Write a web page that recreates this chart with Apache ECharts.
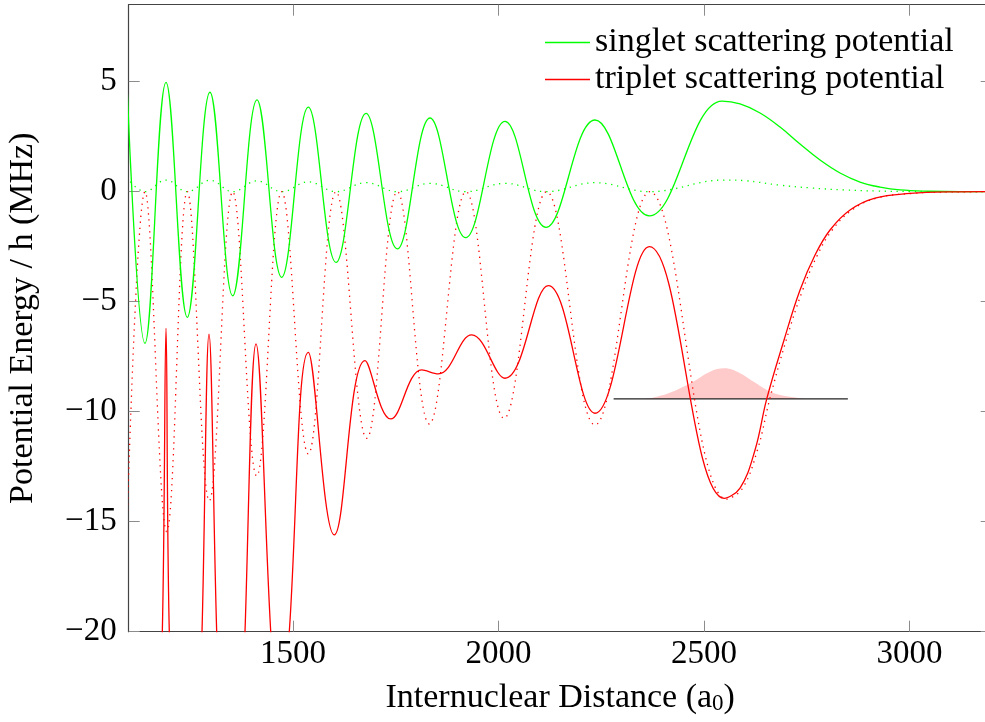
<!DOCTYPE html>
<html><head><meta charset="utf-8">
<script src="https://cdn.jsdelivr.net/npm/echarts@6/dist/echarts.min.js"></script>
<style>html,body{margin:0;padding:0;background:#fff}#c{width:985px;height:722px}</style>
</head><body><div id="c"></div>
<script>
// Tick labels
const xTicks = [1500, 2000, 2500, 3000];
const yTicks = [-20, -15, -10, -5, 0, 5];

// singlet scattering potential (solid green): [distance, energy]
const singlet = [
  [1095, 5.3], [1139.7, -6.89], [1190.8, 4.97], [1242.6, -5.71], [1297.8, 4.52], [1353.1, -4.73],
  [1412.2, 4.17], [1472.3, -3.89], [1537.1, 3.84], [1604.5, -3.21], [1677.5, 3.56], [1753.6, -2.60],
  [1833.2, 3.35], [1920.1, -2.09], [2015.7, 3.20], [2115.5, -1.62], [2234.7, 3.26], [2366.9, -1.10],
  [2543.8, 4.12], [2587.6, 3.99], [2636.3, 3.58], [2684.9, 2.94], [2733.6, 2.17], [2782.3, 1.44],
  [2831.0, 0.85], [2879.6, 0.44], [2928.3, 0.21], [2977.0, 0.08], [3050, 0.02], [3123, 0.0], [3200, 0.0]
];

// singlet dotted companion curve (green dotted)
const singletDotted = [
  [1095, 0.66], [1139.7, 0], [1190.8, 0.53], [1242.6, 0], [1297.8, 0.52], [1353.1, 0],
  [1412.2, 0.49], [1472.3, 0], [1537.1, 0.45], [1604.5, 0], [1677.5, 0.41], [1753.6, 0],
  [1833.2, 0.38], [1920.1, 0], [2015.7, 0.38], [2115.5, 0], [2234.7, 0.41], [2366.9, 0],
  [2549, 0.53], [2600, 0.50], [2683, 0.30], [2760, 0.17], [2840, 0.08], [2920, 0.03],
  [3000, 0.01], [3100, 0], [3200, 0]
];

// triplet scattering potential (solid red)
const triplet = [
  [1150, -40], [1181.8, -20], [1190.8, -6.21], [1198.8, -20], [1239.4, -45], [1278.4, -20],
  [1295.4, -6.48], [1314.1, -20], [1349.0, -40], [1383.0, -20], [1409.8, -6.92], [1445.6, -20],
  [1468.2, -26], [1490.8, -20], [1537.1, -7.30], [1600.3, -15.6], [1675.0, -7.68], [1737.6, -10.33],
  [1813.0, -8.10], [1853.4, -8.28], [1934.7, -6.51], [2015.7, -8.48], [2121.1, -4.27], [2234.7, -10.07],
  [2366.9, -2.50], [2549.4, -13.94], [2587.6, -13.47], [2624.1, -11.74], [2652.6, -9.42], [2694.7, -6.74],
  [2733.6, -4.47], [2770.1, -2.88], [2806.6, -1.74], [2855.3, -0.83], [2916.1, -0.29], [3001.3, -0.08],
  [3098.6, -0.01], [3200, 0]
];

// triplet dotted companion curve (red dotted)
const tripletDotted = [
  [1092, -17.5], [1139.7, 0], [1192.5, -15.45], [1242.6, 0], [1296.1, -14.05], [1353.1, 0],
  [1411.5, -12.92], [1472.3, 0], [1537.1, -11.92], [1604.5, 0], [1679.2, -11.21], [1753.6, 0],
  [1831.5, -10.56], [1920.8, 0], [2013.3, -10.30], [2117.2, 0], [2234.8, -10.60], [2367.9, 0],
  [2555.2, -13.98], [2593, -13.5], [2630, -11.74], [2660, -9.42], [2700, -6.74], [2740, -4.47],
  [2776, -2.88], [2812, -1.74], [2860, -0.83], [2920, -0.29], [3005, -0.08], [3100, -0.01], [3200, 0]
];

// wave packet (pink) on its energy level
const levelEnergy = -9.42;
const levelX = [2280, 2850];
const packetX = [2280, 2352.3, 2392.9, 2433.6, 2474.0, 2514.6, 2549.4, 2587.6, 2620.0, 2652.6, 2684.9, 2717.3, 2749.9, 2850];
const packetH = [0, 0, 0.14, 0.41, 0.79, 1.24, 1.39, 1.17, 0.79, 0.41, 0.18, 0.08, 0, 0];

const FONT = '"Liberation Serif", "Times New Roman", serif';
const FRAME = {color: '#444', width: 1.2};
const TICK = {color: '#8c8c8c', width: 1};
const minus = v => String(v).replace('-', '\u2212');

const chart = echarts.init(document.getElementById('c'));
chart.setOption({
  animation: false,
  backgroundColor: '#fff',
  grid: {left: 128.7, top: 4.7, width: 863, height: 627, containLabel: false, outerBoundsMode: 'none'},
  legend: {
    data: ['singlet scattering potential', 'triplet scattering potential'],
    orient: 'vertical', left: 545, top: 24, padding: 0, itemGap: 0,
    icon: 'rect', itemWidth: 45, itemHeight: 1.3, selectedMode: false,
    textStyle: {fontFamily: FONT, fontSize: 34, color: '#000', lineHeight: 37}
  },
  xAxis: [{
    type: 'value', min: 1100, max: 3200, position: 'bottom',
    axisLine: {show: true, onZero: false, lineStyle: FRAME},
    axisTick: {show: true, inside: true, length: 11, customValues: xTicks, lineStyle: TICK},
    axisLabel: {show: true, customValues: xTicks, margin: 6, fontFamily: FONT, fontSize: 33, color: '#000', formatter: v => String(v)},
    splitLine: {show: false},
    name: '{a|Internuclear Distance (a}{s|0}{a|)}',
    nameLocation: 'middle', nameGap: 48, nameMoveOverlap: false,
    nameTextStyle: {
      fontFamily: FONT, fontSize: 34, color: '#000',
      rich: {
        a: {fontFamily: FONT, fontSize: 34, lineHeight: 36, color: '#000'},
        s: {fontFamily: FONT, fontSize: 23, lineHeight: 11, verticalAlign: 'bottom', color: '#000'}
      }
    }
  }, {
    type: 'value', min: 1100, max: 3200, position: 'top',
    axisLine: {show: true, onZero: false, lineStyle: FRAME},
    axisTick: {show: true, inside: true, length: 11, customValues: xTicks, lineStyle: TICK},
    axisLabel: {show: false}, splitLine: {show: false}
  }],
  yAxis: [{
    type: 'value', min: -20, max: 8.5, position: 'left',
    axisLine: {show: true, onZero: false, lineStyle: FRAME},
    axisTick: {show: true, inside: true, length: 11, customValues: yTicks, lineStyle: TICK},
    axisLabel: {show: true, customValues: yTicks, margin: 12, fontFamily: FONT, fontSize: 33, color: '#000', formatter: minus},
    splitLine: {show: false},
    name: 'Potential Energy / h (MHz)', nameLocation: 'middle', nameGap: 89, nameRotate: 90, nameMoveOverlap: false,
    nameTextStyle: {fontFamily: FONT, fontSize: 34, color: '#000'}
  }, {
    type: 'value', min: -20, max: 8.5, position: 'right',
    axisLine: {show: true, onZero: false, lineStyle: FRAME},
    axisTick: {show: true, inside: true, length: 11, customValues: yTicks, lineStyle: TICK},
    axisLabel: {show: false}, splitLine: {show: false}
  }],
  series: [
    {type: 'line', data: packetX.map((x, i) => [x, levelEnergy + packetH[i]]),
     symbol: 'none', smooth: 0.4, lineStyle: {opacity: 0},
     areaStyle: {color: '#ffcaca', opacity: 1, origin: levelEnergy}, silent: true, z: 1},
    {type: 'line', data: levelX.map(x => [x, levelEnergy]), symbol: 'none',
     lineStyle: {color: '#222', width: 1.3}, silent: true, z: 2},
    {type: 'line', data: singletDotted, symbol: 'none', smooth: 0.4,
     lineStyle: {color: '#00ff00', width: 1.3, type: [1.3, 4.7]}, silent: true, z: 3},
    {type: 'line', data: tripletDotted, symbol: 'none', smooth: 0.4,
     lineStyle: {color: '#ff0000', width: 1.3, type: [1.3, 4.7]}, silent: true, z: 3},
    {type: 'line', name: 'singlet scattering potential', data: singlet, symbol: 'none', smooth: 0.4,
     color: '#00ff00', lineStyle: {color: '#00ff00', width: 1.3}, silent: true, z: 4},
    {type: 'line', name: 'triplet scattering potential', data: triplet, symbol: 'none', smooth: 0.4,
     color: '#ff0000', lineStyle: {color: '#ff0000', width: 1.3}, silent: true, z: 4}
  ]
});
</script>
</body></html>
